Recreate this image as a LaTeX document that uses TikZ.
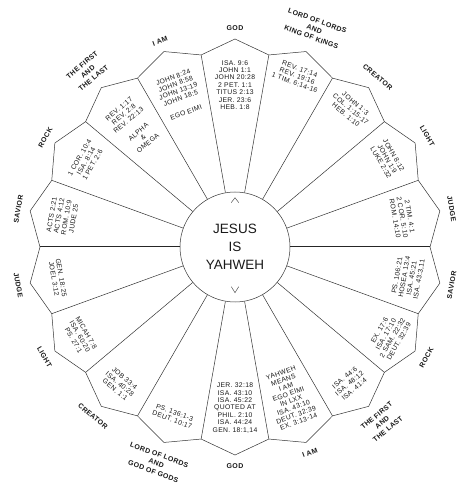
\documentclass[tikz,border=0pt]{standalone}
\usepackage{fontspec}
\setmainfont{Liberation Sans}
\newfontfamily\refsfont[LetterSpace=5]{Liberation Sans}
\usepackage{tikz}

\begin{document}
\begin{tikzpicture}[
    x=1pt, y=1pt,
    rim/.style={draw=black!80, line width=0.5pt, line join=miter},
    axis/.style={draw=black!85, line width=1pt},
    refs/.style={align=center, inner sep=0pt, text=black!90, font=\refsfont\fontsize{6.8}{7.4}\selectfont},
    title/.style={align=center, inner sep=0pt, text=black!90, font=\refsfont\fontsize{7}{8.8}\selectfont\bfseries},
    hub/.style={draw=black!80, line width=0.5pt, circle, minimum size=110pt, inner sep=0pt, align=center, text=black!90, font=\fontsize{13.5}{18}\selectfont}
]
\useasboundingbox (-235,-253) rectangle (236,247);
\node[hub] (hub) at (0,0) {JESUS\\IS\\YAHWEH};

\foreach \a in {20,40,...,160,200,220,...,340}
    \draw[rim] (hub.\a) -- (\a:195);
\draw[axis] (hub.0) -- (0:195);
\draw[axis] (hub.180) -- (180:195);
\draw[rim] (0:195) \foreach \a in {0,20,...,340} { -- ({\a+10}:208) -- ({\a+20}:195) } -- cycle;

\draw[rim, line width=0.4pt] (-3.8,44.3) -- (0,49.3) -- (3.8,44.3);
\draw[rim, line width=0.4pt] (-3.7,-39.7) -- (0,-45.7) -- (3.7,-39.7);

\node[refs, rotate=80] (refSaviorUp) at (170:175) {ACTS 2:21\\ACTS 4:12\\ROM. 10:9\\JUDE 25};
\node[refs, rotate=60] (refRockUp) at (150:172) {1 COR. 10:4\\ISA. 8:14\\1 PET. 2:6};
\node[refs, rotate=40] (refFirstUp) at (130:158) {REV. 1:17\\REV. 2:8\\REV. 22:13\\[8pt]ALPHA\\\&\\OMEGA};
\node[refs, rotate=20] (refIAmUp) at (110:162) {JOHN 8:24\\JOHN 8:58\\JOHN 13:19\\JOHN 18:5\\[8pt]EGO EIMI};
\node[refs] (refGodUp) at (90:162) {ISA. 9:6\\JOHN 1:1\\JOHN 20:28\\2 PET. 1:1\\TITUS 2:13\\JER. 23:6\\HEB. 1:8};
\node[refs, rotate=-20] (refLordUp) at (70:182) {REV. 17:14\\REV. 19:16\\1 TIM. 6:14-16};
\node[refs, rotate=-40] (refCreatorUp) at (50:180) {JOHN 1:3\\COL. 1:15-17\\HEB. 1:10};
\node[refs, rotate=-60] (refLightUp) at (30:176) {JOHN 8:12\\JOHN 1:9\\LUKE 2:32};
\node[refs, rotate=-80] (refJudgeUp) at (10:170) {2 TIM. 4:1\\2 COR. 5:10\\ROM. 14:10};

\node[refs, rotate=-80] (refJudgeDown) at (190:180) {GEN. 18:25\\JOEL 3:12};
\node[refs, rotate=-60] (refLightDown) at (210:179) {MICAH 7:8\\ISA. 60:20\\PS. 27:1};
\node[refs, rotate=-40] (refCreatorDown) at (230:179) {JOB 33:4\\ISA. 40:28\\GEN. 1:1};
\node[refs, rotate=-20] (refLordDown) at (250:180) {PS. 136:1-3\\DEUT. 10:17};
\node[refs] (refGodDown) at (270:161) {JER. 32:18\\ISA. 43:10\\ISA. 45:22\\QUOTED AT\\PHIL. 2:10\\ISA. 44:24\\GEN. 18:1,14};
\node[refs, rotate=20] (refIAmDown) at (290:160) {YAHWEH\\MEANS\\I AM\\EGO EIMI\\IN LXX\\ISA. 43:10\\DEUT. 32:39\\EX. 3:13-14};
\node[refs, rotate=40] (refFirstDown) at (310:178) {ISA. 44:6\\ISA. 48:12\\ISA. 41:4};
\node[refs, rotate=60] (refRockDown) at (330:178) {EX. 17:6\\ISA. 17:10\\2 SAM. 22:32\\DEUT. 32:39};
\node[refs, rotate=80] (refSaviorDown) at (350:176) {PS. 106:21\\HOSEA 13:4\\ISA. 45:21\\ISA. 43:3,11};

\node[title, rotate=80] (lblSaviorUp) at (170:220) {SAVIOR};
\node[title, rotate=60] (lblRockUp) at (150:219) {ROCK};
\node[title, rotate=40] (lblFirstUp) at (130:229) {THE FIRST\\AND\\THE LAST};
\node[title, rotate=20] (lblIAmUp) at (110:219) {I AM};
\node[title] (lblGodUp) at (90:219) {GOD};
\node[title, rotate=-20] (lblLordUp) at (70:232) {LORD OF LORDS\\AND\\KING OF KINGS};
\node[title, rotate=-40] (lblCreatorUp) at (50:222) {CREATOR};
\node[title, rotate=-60] (lblLightUp) at (30:222) {LIGHT};
\node[title, rotate=-80] (lblJudgeUp) at (10:220) {JUDGE};

\node[title, rotate=-80] (lblJudgeDown) at (190:220) {JUDGE};
\node[title, rotate=-60] (lblLightDown) at (210:220) {LIGHT};
\node[title, rotate=-40] (lblCreatorDown) at (230:221) {CREATOR};
\node[title, rotate=-20] (lblLordDown) at (250:230) {LORD OF LORDS\\AND\\GOD OF GODS};
\node[title] (lblGodDown) at (270:219) {GOD};
\node[title, rotate=20] (lblIAmDown) at (290:219) {I AM};
\node[title, rotate=40] (lblFirstDown) at (310:229) {THE FIRST\\AND\\THE LAST};
\node[title, rotate=60] (lblRockDown) at (330:221) {ROCK};
\node[title, rotate=80] (lblSaviorDown) at (350:220) {SAVIOR};
\end{tikzpicture}
\end{document}
